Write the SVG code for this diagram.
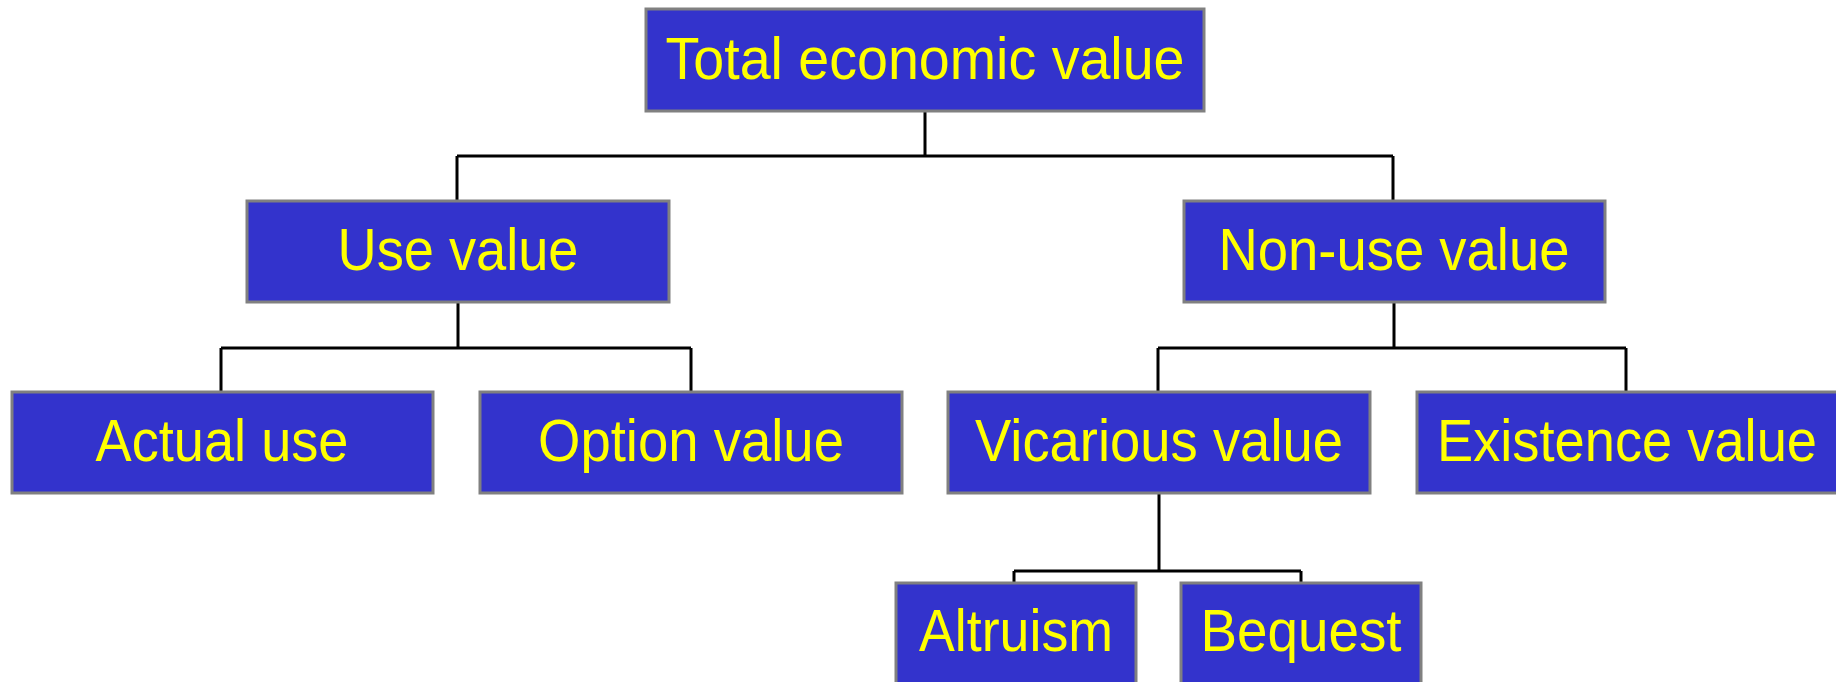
<svg xmlns="http://www.w3.org/2000/svg" width="1836" height="682" viewBox="0 0 1836 682">
<style>
.box{fill:#3333CC;stroke:#808080;stroke-width:3}
.lbl{fill:#FFFF00;font-family:"Liberation Sans",Arial,sans-serif;font-size:59px;text-anchor:middle}
.con{fill:none;stroke:#000;stroke-width:3}
</style>
<rect width="1836" height="682" fill="#fff"/>
<g id="connectors">
<path class="con" d="M925 111V156M457 156H1393M457 156V201M1393 156V201"/>
<path class="con" d="M458 302V348M221 348H691M221 348V392M691 348V392"/>
<path class="con" d="M1394 302V348M1158 348H1626M1158 348V392M1626 348V392"/>
<path class="con" d="M1159 493V571M1014 571H1301M1014 571V583M1301 571V583"/>
</g>
<g id="total"><rect class="box" x="646" y="9" width="558" height="102"/><text class="lbl" x="925" y="79" textLength="519" lengthAdjust="spacingAndGlyphs">Total economic value</text></g>
<g id="use"><rect class="box" x="247" y="201" width="422" height="101"/><text class="lbl" x="458" y="270" textLength="241" lengthAdjust="spacingAndGlyphs">Use value</text></g>
<g id="nonuse"><rect class="box" x="1184" y="201" width="421" height="101"/><text class="lbl" x="1394" y="270" textLength="351" lengthAdjust="spacingAndGlyphs">Non-use value</text></g>
<g id="actual"><rect class="box" x="12" y="392" width="421" height="101"/><text class="lbl" x="222" y="461" textLength="253" lengthAdjust="spacingAndGlyphs">Actual use</text></g>
<g id="option"><rect class="box" x="480" y="392" width="422" height="101"/><text class="lbl" x="691" y="461" textLength="306" lengthAdjust="spacingAndGlyphs">Option value</text></g>
<g id="vicarious"><rect class="box" x="948" y="392" width="422" height="101"/><text class="lbl" x="1159" y="461" textLength="368" lengthAdjust="spacingAndGlyphs">Vicarious value</text></g>
<g id="existence"><rect class="box" x="1417" y="392" width="422" height="101"/><text class="lbl" x="1627" y="461" textLength="380" lengthAdjust="spacingAndGlyphs">Existence value</text></g>
<g id="altruism"><rect class="box" x="896" y="583" width="240" height="102"/><text class="lbl" x="1016" y="651" textLength="194" lengthAdjust="spacingAndGlyphs">Altruism</text></g>
<g id="bequest"><rect class="box" x="1181" y="583" width="240" height="102"/><text class="lbl" x="1301" y="651" textLength="201" lengthAdjust="spacingAndGlyphs">Bequest</text></g>
</svg>
